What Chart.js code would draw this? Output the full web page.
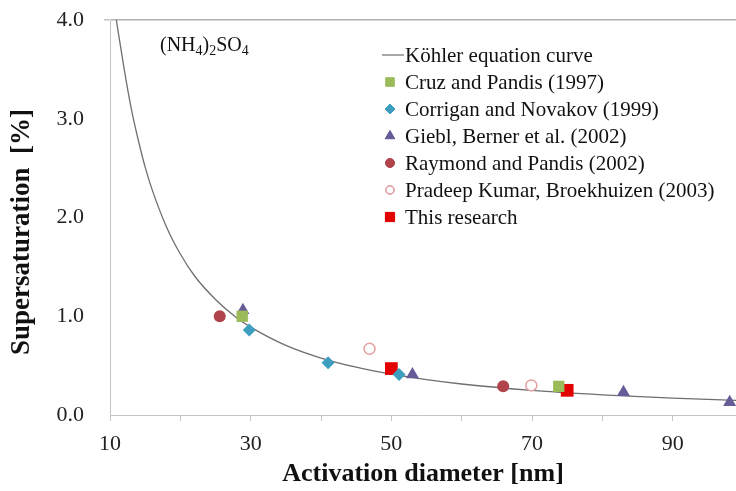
<!DOCTYPE html>
<html>
<head>
<meta charset="utf-8">
<script src="https://cdn.jsdelivr.net/npm/chart.js@4/dist/chart.umd.min.js"></script>
<style>
html,body{margin:0;padding:0;background:#fff;overflow:hidden;}
#wrap{width:736px;height:491px;position:relative;}
</style>
</head>
<body>
<div id="wrap"><canvas id="c" width="736" height="491"></canvas></div>
<script>
// ---- data ----
const kohlerD = [10.9, 12, 13, 14, 15, 16, 18, 20, 22, 25, 28, 30, 35, 40, 45, 50, 55, 60, 70, 80, 90, 99];
const kohlerS = [4.00, 3.51, 3.11, 2.79, 2.51, 2.28, 1.91, 1.63, 1.41, 1.17, 0.985, 0.89, 0.705, 0.577, 0.484, 0.413, 0.358, 0.314, 0.249, 0.204, 0.171, 0.148];

const cruzD = [28.8, 73.8];          const cruzS = [1.00, 0.29];
const corriganD = [29.8, 41.0, 51.1]; const corriganS = [0.86, 0.53, 0.41];
const gieblD = [28.9, 53.0, 83.0, 98.1]; const gieblS = [1.06, 0.41, 0.23, 0.13];
const raymondD = [25.6, 65.9];       const raymondS = [1.00, 0.29];
const pradeepD = [46.9, 69.9];       const pradeepS = [0.67, 0.30];
const researchD = [50.0, 75.0];      const researchS = [0.47, 0.25];

const seriesNames = ["Köhler equation curve", "Cruz and Pandis (1997)", "Corrigan and Novakov (1999)",
  "Giebl, Berner et al. (2002)", "Raymond and Pandis (2002)", "Pradeep Kumar, Broekhuizen (2003)", "This research"];
const xTickLabels = [10, 30, 50, 70, 90];
const yTickLabels = [0, 1, 2, 3, 4];
const xTitle = "Activation diameter [nm]";
const yTitle = "Supersaturation  [%]";

function pts(xs, ys){ return xs.map((x,i)=>({x:x, y:ys[i]})); }

const SERIF = "'Liberation Serif', 'Times New Roman', serif";

const legendPlugin = {
  id: 'customLegend',
  afterDraw(chart){
    const ctx = chart.ctx;
    const x0 = 390, y0 = 55, step = 27;
    ctx.save();
    ctx.textBaseline = "middle";
    chart.data.datasets.forEach((ds, i) => {
      const y = y0 + i*step;
      if (ds.showLine) {
        ctx.strokeStyle = ds.borderColor; ctx.lineWidth = 1.2;
        ctx.beginPath(); ctx.moveTo(382, y); ctx.lineTo(404, y); ctx.stroke();
      } else {
        ctx.fillStyle = ds.pointBackgroundColor;
        ctx.strokeStyle = ds.pointBorderColor;
        ctx.lineWidth = ds.pointBorderWidth || 1;
        Chart.helpers.drawPoint(ctx, {pointStyle: ds.pointStyle, radius: ds.legendRadius, rotation: 0, borderWidth: ctx.lineWidth}, x0, y);
        ctx.fill(); if (ds.pointBorderWidth) ctx.stroke();
      }
      ctx.font = "21px " + SERIF;
      ctx.fillStyle = "#111";
      ctx.textAlign = "left";
      ctx.fillText(ds.label, 405, y + 1);
    });
    // annotation (NH4)2SO4
    let x = 160; const by = 51;
    const parts = [["(NH",0],["4",1],[")",0],["2",1],["SO",0],["4",1]];
    ctx.textBaseline = "alphabetic";
    parts.forEach(p => {
      ctx.font = (p[1] ? "14px " : "20px ") + SERIF;
      ctx.fillText(p[0], x, by + (p[1] ? 4 : 0));
      x += ctx.measureText(p[0]).width;
    });
    // y axis title
    ctx.translate(22, 232);
    ctx.rotate(-Math.PI/2);
    ctx.font = "bold 27px " + SERIF;
    ctx.textAlign = "center";
    ctx.textBaseline = "middle";
    ctx.fillText(yTitle, 0, 0);
    ctx.restore();
  }
};

const curveColor = "#6f6f6f";
const chart = new Chart(document.getElementById('c'), {
  type: 'scatter',
  data: {
    datasets: [
      {label: seriesNames[0], data: pts(kohlerD, kohlerS), showLine: true, borderColor: curveColor, borderWidth: 1.3,
        pointRadius: 0, cubicInterpolationMode: 'monotone', fill: false, order: 10},
      {label: seriesNames[1], data: pts(cruzD, cruzS), pointStyle: 'rect', pointRadius: 8, legendRadius: 6,
        pointBackgroundColor: '#9bbb59', pointBorderColor: '#9bbb59', pointBorderWidth: 0},
      {label: seriesNames[2], data: pts(corriganD, corriganS), pointStyle: 'rectRot', pointRadius: 6.5, legendRadius: 5,
        pointBackgroundColor: '#3e9ec0', pointBorderColor: '#3e9ec0', pointBorderWidth: 0},
      {label: seriesNames[3], data: pts(gieblD, gieblS), pointStyle: 'triangle', pointRadius: 7.5, legendRadius: 5.5,
        pointBackgroundColor: '#685c98', pointBorderColor: '#685c98', pointBorderWidth: 0},
      {label: seriesNames[4], data: pts(raymondD, raymondS), pointStyle: 'circle', pointRadius: 6, legendRadius: 4.5,
        pointBackgroundColor: '#b0434b', pointBorderColor: '#b0434b', pointBorderWidth: 0},
      {label: seriesNames[5], data: pts(pradeepD, pradeepS), pointStyle: 'circle', pointRadius: 5.5, legendRadius: 4,
        pointBackgroundColor: '#ffffff', pointBorderColor: '#e3a0a0', pointBorderWidth: 1.5},
      {label: seriesNames[6], data: pts(researchD, researchS), pointStyle: 'rect', pointRadius: 9, legendRadius: 6.5,
        pointBackgroundColor: '#e30000', pointBorderColor: '#e30000', pointBorderWidth: 0}
    ]
  },
  options: {
    responsive: false,
    animation: false,
    events: [],
    layout: {autoPadding: false, padding: {top: 20, right: 0, left: 0, bottom: 0}},
    plugins: {legend: {display: false}, tooltip: {enabled: false}},
    scales: {
      x: {
        type: 'linear', min: 10, max: 99,
        border: {display: true, color: '#c4c4c4', width: 1},
        grid: {drawOnChartArea: false, drawTicks: true, tickLength: 6, tickColor: '#c4c4c4'},
        ticks: {stepSize: 10, padding: 10, color: '#222', font: {family: SERIF, size: 22},
          callback: v => xTickLabels.includes(v) ? String(v) : ''},
        title: {display: true, text: xTitle, color: '#111',
          font: {family: SERIF, size: 26, weight: 'bold'}, padding: {top: 0, bottom: 1}},
        afterFit: s => { s.height = 76; s.paddingRight = 0; s.paddingLeft = 0; }
      },
      y: {
        min: 0, max: 4,
        border: {display: true, color: '#c4c4c4', width: 1},
        grid: {drawOnChartArea: true, drawTicks: true, tickLength: 6, tickColor: '#c4c4c4',
          color: c => (c.tick && c.tick.value === 4) ? '#b0b0b0' : 'rgba(0,0,0,0)', lineWidth: c => (c.tick && c.tick.value === 4) ? 1.5 : 0},
        ticks: {stepSize: 0.5, padding: 20, color: '#222', font: {family: SERIF, size: 22},
          callback: v => yTickLabels.includes(v) ? v.toFixed(1) : ''},
        title: {display: false},
        afterFit: s => { s.width = 110; s.paddingTop = 0; s.paddingBottom = 0; }
      }
    }
  },
  plugins: [legendPlugin]
});
</script>
</body>
</html>
